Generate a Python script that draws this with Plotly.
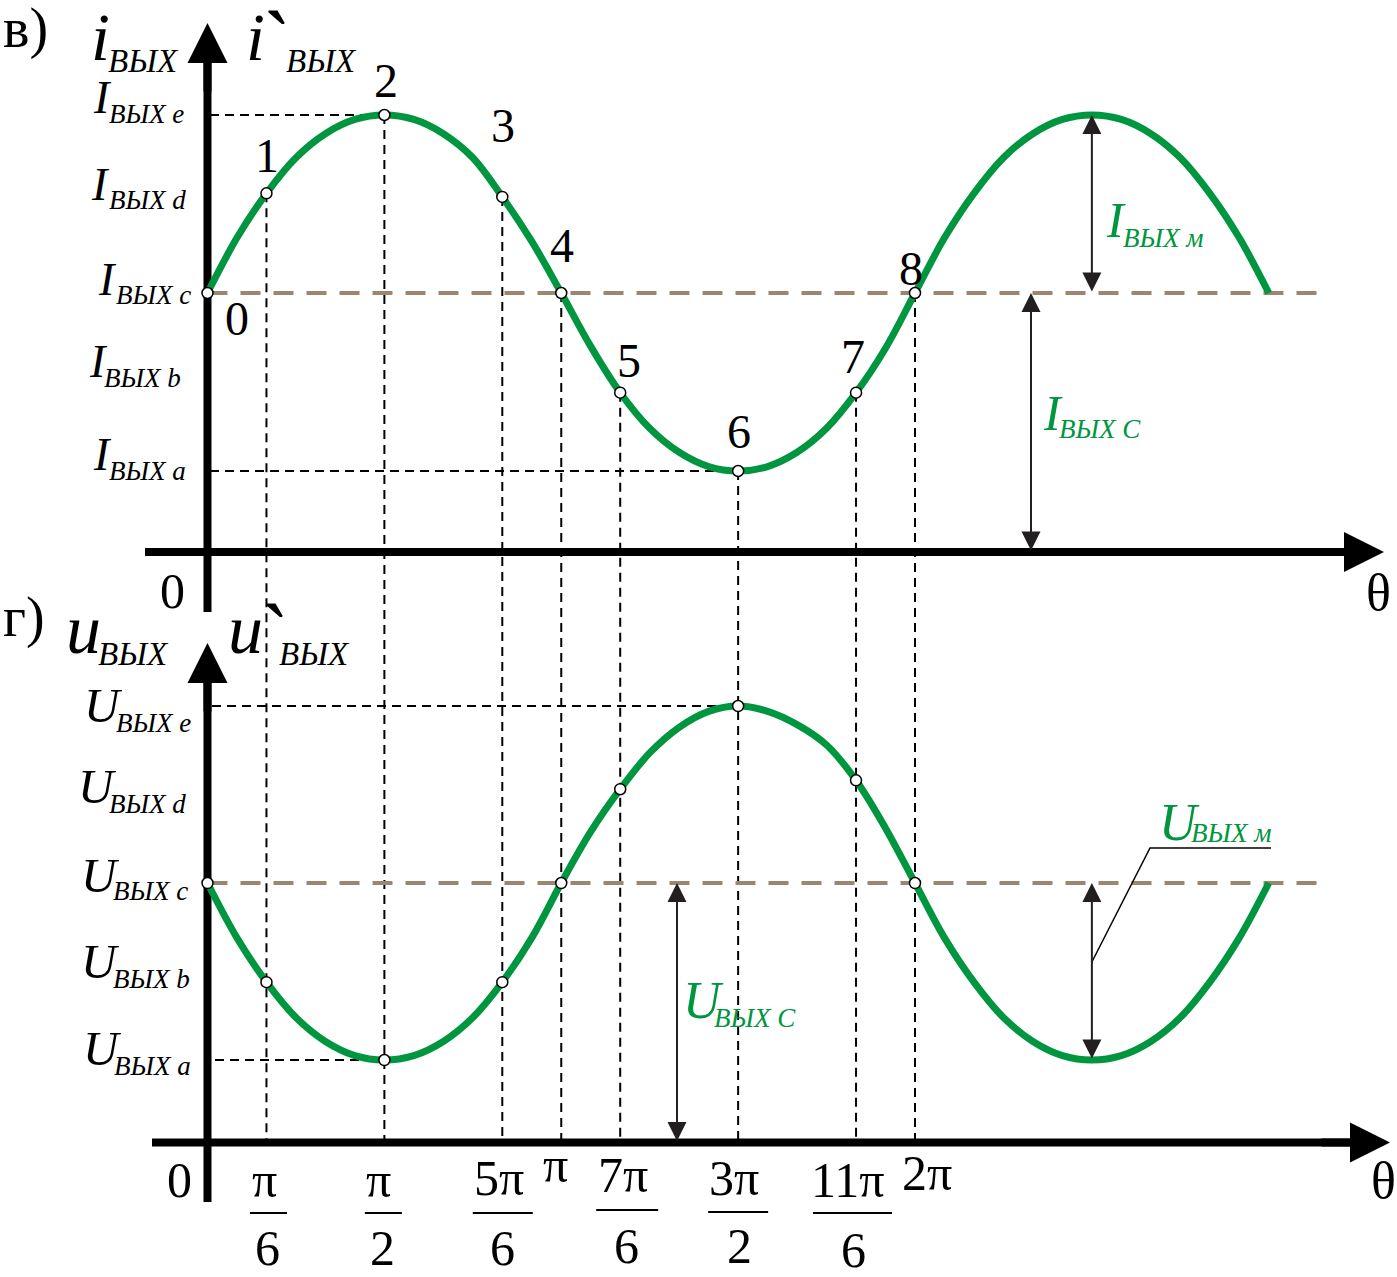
import plotly.graph_objects as go

# ---------------- data (θ in units of π) ----------------
theta = [0, 1/12, 2/12, 3/12, 4/12, 5/12, 6/12, 7/12, 8/12, 9/12, 10/12, 11/12, 1,
         13/12, 14/12, 15/12, 16/12, 17/12, 18/12, 19/12, 20/12, 21/12, 22/12, 23/12, 2,
         25/12, 26/12, 27/12, 28/12, 29/12, 30/12, 31/12, 32/12, 33/12, 34/12, 35/12, 3]

# alternating part of i_out (units of I_M)
i_wave = [0.00, 0.31, 0.56, 0.76, 0.895, 0.975, 1.00, 0.975, 0.895, 0.76, 0.54, 0.29, 0.00,
          -0.30, -0.56, -0.76, -0.895, -0.975, -1.00, -0.975, -0.895, -0.76, -0.56, -0.31, 0.00,
          0.31, 0.56, 0.76, 0.895, 0.975, 1.00, 0.975, 0.895, 0.76, 0.56, 0.31, 0.00]
# alternating part of u_out (units of U_M)
u_wave = [0.00, -0.31, -0.56, -0.76, -0.895, -0.975, -1.00, -0.975, -0.895, -0.76, -0.56, -0.31, 0.00,
          0.29, 0.53, 0.735, 0.88, 0.97, 1.00, 0.97, 0.895, 0.78, 0.58, 0.31, 0.00,
          -0.31, -0.56, -0.76, -0.895, -0.975, -1.00, -0.975, -0.895, -0.76, -0.56, -0.31, 0.00]

I_C, I_M = 1.455, 1.0      # constant component and amplitude of i_out
U_C, U_M = 1.466, 1.0      # constant component and amplitude of u_out

pt_index = [0, 2, 6, 10, 12, 14, 18, 22, 24]          # points 0..8 (θ = 0, π/6, π/2, ...)
pt_labels = ['0', '1', '2', '3', '4', '5', '6', '7', '8']

tick_vals = [1/6, 1/2, 5/6, 1, 7/6, 3/2, 11/6, 2]
tick_num = ['π', 'π', '5π', 'π', '7π', '3π', '11π', '2π']
tick_den = ['6', '2', '6', '', '6', '2', '6', '']

level_letters = ['e', 'd', 'c', 'b', 'a']

# ---------------- geometry / style (layout only) ----------------
W, H = 1397, 1277
GREEN = '#00963f'
BROWN = '#9a8671'
FONT = 'Liberation Serif'
X0_PX, PI_PX = 207.5, 353.75
TOP_BASE_PX, TOP_UNIT_PX = 552.0, 178.0
BOT_BASE_PX, BOT_UNIT_PX = 1142.5, 177.0


def x_of(px):
    return (px - X0_PX) / PI_PX


def yt_of(py):
    return (TOP_BASE_PX - py) / TOP_UNIT_PX


def yb_of(py):
    return (BOT_BASE_PX - py) / BOT_UNIT_PX


def yb_to_yt(v):
    return yt_of(BOT_BASE_PX - v * BOT_UNIT_PX)


i_curve = [I_C + I_M * w for w in i_wave]
u_curve = [U_C + U_M * w for w in u_wave]
pt_theta = [theta[k] for k in pt_index]
i_pts = [i_curve[k] for k in pt_index]
u_pts = [u_curve[k] for k in pt_index]

fig = go.Figure()


def line(x, y, axis='y', color='black', width=2, dash=None):
    fig.add_trace(go.Scatter(x=x, y=y, yaxis=axis, mode='lines', hoverinfo='skip',
                             line=dict(color=color, width=width, dash=dash)))


# axes (thick black lines)
line([x_of(145), x_of(1350)], [0, 0], 'y', width=8)
line([0, 0], [yt_of(612), yt_of(55)], 'y', width=8)
line([x_of(152), x_of(1355)], [0, 0], 'y2', width=8)
line([0, 0], [yb_of(1202), yb_of(675)], 'y2', width=8)

# black dashed guide lines
BD = '9px,6px'
gx, gy = [], []
for t, v in zip(pt_theta[1:], i_pts[1:]):
    gx += [t, t, None]
    gy += [v, yb_to_yt(0), None]
line(gx, gy, 'y', dash=BD)
line([x_of(210), 0.5], [I_C + I_M, I_C + I_M], 'y', dash=BD)
line([x_of(210), 1.5], [I_C - I_M, I_C - I_M], 'y', dash=BD)
line([x_of(212), 1.5], [U_C + U_M, U_C + U_M], 'y2', dash=BD)
line([x_of(215), 0.5], [U_C - U_M, U_C - U_M], 'y2', dash=BD)

# brown dashed constant levels
line([0, x_of(1323)], [I_C, I_C], 'y', color=BROWN, width=4, dash='20px,13px')
line([0, x_of(1329)], [U_C, U_C], 'y2', color=BROWN, width=4, dash='20px,13px')

# curves
fig.add_trace(go.Scatter(x=theta, y=i_curve, yaxis='y', mode='lines', hoverinfo='skip',
                         line=dict(color=GREEN, width=7, shape='spline')))
fig.add_trace(go.Scatter(x=theta, y=u_curve, yaxis='y2', mode='lines', hoverinfo='skip',
                         line=dict(color=GREEN, width=7, shape='spline')))

# leader line for U_M
line([2.5, x_of(1150), x_of(1271)], [yb_of(962), yb_of(848), yb_of(848)], 'y2', width=1.5)

# points
mk = dict(size=11, color='white', line=dict(color='black', width=1.5))
fig.add_trace(go.Scatter(x=pt_theta, y=i_pts, yaxis='y', mode='markers', marker=mk, hoverinfo='skip'))
fig.add_trace(go.Scatter(x=pt_theta, y=u_pts, yaxis='y2', mode='markers', marker=mk, hoverinfo='skip'))

ann = []


def head(x, y, yref, ax, ay):
    ann.append(dict(x=x, y=y, xref='x', yref=yref, ax=ax, ay=ay, text='', showarrow=True,
                    arrowhead=2, arrowsize=1.0, arrowwidth=8, arrowcolor='black'))


head(x_of(1384), 0, 'y', -70, 0)
head(0, yt_of(23), 'y', 0, 70)
head(x_of(1390), 0, 'y2', -70, 0)
head(0, yb_of(643), 'y2', 0, 70)


def dbl(x, y_top, y_bot, yref):
    ann.append(dict(x=x, y=y_top, xref='x', yref=yref, ax=x, ay=y_bot, axref='x', ayref=yref,
                    text='', showarrow=True, arrowside='end+start', arrowhead=2, startarrowhead=2,
                    arrowsize=1.9, startarrowsize=1.9, arrowwidth=2, arrowcolor='#231f20'))


dbl(2.5, I_C + I_M, I_C, 'y')
dbl(x_of(1031), I_C, 0, 'y')
dbl(2.5, U_C, U_C - U_M, 'y2')
dbl(x_of(677), U_C, 0, 'y2')


def label(s, px, base, size, color='black', italic=True, anchor='left', yc=None):
    yy = (base - 0.3375 * size) if yc is None else yc
    ann.append(dict(text=s, x=px / W, y=1 - yy / H, xref='paper', yref='paper',
                    xanchor=anchor, yanchor='middle', showarrow=False, borderpad=0,
                    font=dict(family=FONT, size=size, color=color,
                              style='italic' if italic else 'normal')))


# ---- top panel texts ----
label('в)', 2, 47, 56, italic=False)
label('i', 90, 60, 68)
label('ВЫХ', 107, 72, 33)
label('i', 245, 60, 68)
label('`', 270, 0, 90, anchor='center', yc=44)
label('ВЫХ', 285, 72, 33)

i_lab = [(92, 113, 108, 123), (90, 200, 108, 209), (97, 295, 115, 304),
         (88, 377, 103, 387), (92, 470, 108, 480)]
for L, (mx, mb, sx, sb) in zip(level_letters, i_lab):
    label('I', mx, mb, 46)
    label('ВЫХ ' + L, sx, sb, 27)

num_pos = [(236.5, 335), (267, 172), (386, 97), (503, 142), (561.5, 262),
           (629, 377), (738.5, 448), (853, 373), (911, 285)]
for s, (cx, b) in zip(pt_labels, num_pos):
    label(s, cx, b, 48, italic=False, anchor='center')

label('0', 172.5, 608, 50, italic=False, anchor='center')
label('θ', 1378, 610, 52, italic=False, anchor='center')
label('I', 1105, 237, 50, color=GREEN)
label('ВЫХ м', 1122, 247, 27, color=GREEN)
label('I', 1042, 430, 50, color=GREEN)
label('ВЫХ C', 1058, 438, 27, color=GREEN)

# ---- bottom panel texts ----
label('г)', 2, 636, 56, italic=False)
label('u', 65, 653, 70)
label('ВЫХ', 97, 665, 33)
label('u', 227, 653, 70)
label('`', 268, 0, 90, anchor='center', yc=636)
label('ВЫХ', 278, 665, 33)

u_lab = [(83, 722, 115, 732), (77, 803, 108, 813), (80, 892, 112, 900),
         (80, 978, 112, 988), (82, 1065, 113, 1075)]
for L, (mx, mb, sx, sb) in zip(level_letters, u_lab):
    label('U', mx, mb, 49)
    label('ВЫХ ' + L, sx, sb, 27)

label('0', 179.5, 1197, 50, italic=False, anchor='center')
label('θ', 1383.5, 1198, 52, italic=False, anchor='center')
label('U', 1158, 840, 52, color=GREEN)
label('ВЫХ м', 1190, 842, 27, color=GREEN)
label('U', 682, 1018, 52, color=GREEN)
label('ВЫХ C', 713, 1027, 27, color=GREEN)

# ---- θ tick labels (anchored to tick values) ----
num_shift = [-2, -6, -3, -6, 3, -4, -8.5, 11.5]
num_base = [1197, 1197, 1195, 1182, 1192, 1195, 1197, 1190]
den_shift = [1.5, -1.5, 0, 0, 6.5, 1.5, -2.5, 0]
den_base = [1265, 1265, 1265, 0, 1263, 1263, 1267, 0]
bar_shift = [2, -1, 0.5, 0, 7, 0, -3.5, 0]
bar_half = [18.5, 18.5, 30, 0, 31, 30, 39.5, 0]
bar_y = [1213, 1213, 1213, 0, 1210, 1212, 1213, 0]
shapes = []
for t, n, d, ns, nb, ds, db, bs, bh, by in zip(tick_vals, tick_num, tick_den, num_shift, num_base,
                                              den_shift, den_base, bar_shift, bar_half, bar_y):
    size = 50
    ann.append(dict(text=n, x=t, xref='x', y=1 - (nb - 0.3375 * size) / H, yref='paper',
                    xanchor='center', yanchor='middle', xshift=ns, showarrow=False, borderpad=0,
                    font=dict(family=FONT, size=size, color='black')))
    if d:
        ann.append(dict(text=d, x=t, xref='x', y=1 - (db - 0.3375 * size) / H, yref='paper',
                        xanchor='center', yanchor='middle', xshift=ds, showarrow=False, borderpad=0,
                        font=dict(family=FONT, size=size, color='black')))
        shapes.append(dict(type='line', xref='x', xsizemode='pixel', xanchor=t,
                           x0=bs - bh, x1=bs + bh, yref='paper', y0=1 - by / H, y1=1 - by / H,
                           line=dict(color='black', width=2)))

fig.update_layout(
    width=W, height=H, autosize=False,
    margin=dict(l=0, r=0, t=0, b=0, pad=0),
    paper_bgcolor='white', plot_bgcolor='white',
    showlegend=False, hovermode=False,
    xaxis=dict(range=[x_of(0), x_of(W)], visible=False, domain=[0, 1]),
    yaxis=dict(range=[yt_of(H), yt_of(0)], visible=False, domain=[0, 1]),
    yaxis2=dict(range=[yb_of(H), yb_of(0)], visible=False, overlaying='y', domain=[0, 1]),
    annotations=ann,
    shapes=shapes,
)

fig.write_html('out.html', config={'displayModeBar': False},
               post_script="document.body.style.margin='0px';document.body.style.overflow='hidden';")
